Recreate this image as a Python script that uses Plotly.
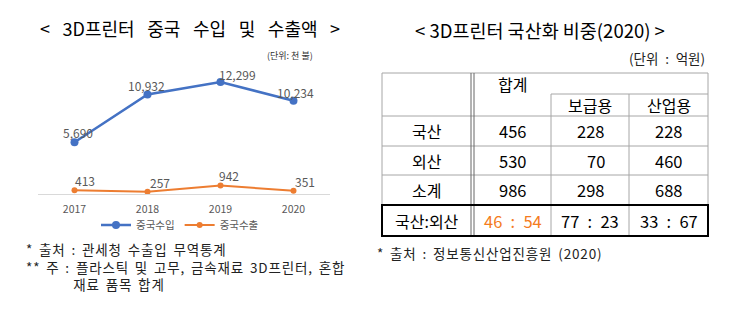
import plotly.graph_objects as go

# ---------------- data ----------------
years = ["2017", "2018", "2019", "2020"]
import_vals = [5690, 10932, 12299, 10234]
export_vals = [413, 257, 942, 351]
series_names = ["중국수입", "중국수출"]

left_title = "< 3D프린터 중국 수입 및 수출액 >"
left_unit = "(단위: 천 불)"
left_notes = ["* 출처 : 관세청 수출입 무역통계",
              "** 주 : 플라스틱 및 고무, 금속재료 3D프린터, 혼합",
              "재료 품목 합계"]

right_title = "< 3D프린터 국산화 비중(2020) >"
right_unit = "(단위 : 억원)"
right_note = "* 출처 : 정보통신산업진흥원 (2020)"
table_head_top = "합계"
table_head_sub = ["보급용", "산업용"]
row_labels = ["국산", "외산", "소계", "국산:외산"]
table_vals = [["456", "228", "228"],
              ["530", "70", "460"],
              ["986", "298", "688"],
              ["46 : 54", "77 : 23", "33 : 67"]]

# ---------------- styling ----------------
W, H = 740, 334
FONT = "Noto Sans CJK KR"
BLUE = "#4472C4"
ORANGE = "#ED7D31"
RATIO_ORANGE = "#F47B20"
GRAY_TXT = "#595959"
EN = "\u2002"
THIN = "\u2009"
HAIR = "\u200a"


def px(x):
    return x / W


def py(y):
    return 1 - y / H


def wide(s, sep=EN):
    return s.replace(" ", sep)


def spaced(s):
    # en-width spaces plus a hair of tracking between glyphs
    out = []
    for k, ch in enumerate(s):
        out.append(EN if ch == " " else ch)
        if k + 1 < len(s) and ch != " " and s[k + 1] != " ":
            out.append(HAIR)
    return "".join(out)


fig = go.Figure()
fig.add_trace(go.Scatter(x=years, y=import_vals, mode="lines+markers", name=series_names[0],
                         line=dict(color=BLUE, width=2.5), marker=dict(size=8, color=BLUE)))
fig.add_trace(go.Scatter(x=years, y=export_vals, mode="lines+markers", name=series_names[1],
                         line=dict(color=ORANGE, width=2), marker=dict(size=6, color=ORANGE)))

ann = []
# data labels (category axis: position by index)
imp_off = [(3, 10), (-1, 9), (17, 8), (2, 8)]
exp_off = [(10, 10), (12, 9), (8, 10), (11, 9)]
for i in range(len(years)):
    ann.append(dict(x=i, y=import_vals[i], xref="x", yref="y", text=f"{import_vals[i]:,}",
                    showarrow=False, xshift=imp_off[i][0], yshift=imp_off[i][1],
                    xanchor="center", yanchor="middle",
                    font=dict(size=12, color=GRAY_TXT, family=FONT)))
    ann.append(dict(x=i, y=export_vals[i], xref="x", yref="y", text=f"{export_vals[i]:,}",
                    showarrow=False, xshift=exp_off[i][0], yshift=exp_off[i][1],
                    xanchor="center", yanchor="middle",
                    font=dict(size=12, color=GRAY_TXT, family=FONT)))


def ptext(x, y, text, size, color="#000", anchor="center", yanchor="middle"):
    ann.append(dict(x=px(x), y=py(y), xref="paper", yref="paper", text=text, showarrow=False,
                    xanchor=anchor, yanchor=yanchor, align="left",
                    font=dict(size=size, color=color, family=FONT)))


# left texts
ptext(190, 28, wide(left_title, EN + THIN), 18)
ptext(315, 55, left_unit, 9, "#333", "right")
notes_text = "<br>".join([spaced(left_notes[0]), spaced(left_notes[1]),
                          EN * 7 + spaced(left_notes[2])])
ptext(24, 237, notes_text, 13.5, "#222", "left", "top")

# right texts
ptext(540, 30, right_title, 18.5)
ptext(707, 58, wide(right_unit), 13.5, "#222", "right")
ptext(375, 253, spaced(right_note), 13.5, "#222", "left")

# table geometry
XL, XD1, XD2, XC2, XC3, XR = 382, 471, 474, 551, 629, 708
YT, YSUB = 73, 94
row_y = [116, 146, 175, 205, 236]
col_cx = [(XD2 + XC2) / 2, (XC2 + XC3) / 2, (XC3 + XR) / 2]
lab_cx = (XL + XD1) / 2
LINE = "#A6A6A6"
shapes = []


def hline(x0, x1, y, color=LINE, w=1):
    shapes.append(dict(type="line", xref="paper", yref="paper", x0=px(x0), x1=px(x1),
                       y0=py(y), y1=py(y), line=dict(color=color, width=w)))


def vline(x, y0, y1, color=LINE, w=1):
    shapes.append(dict(type="line", xref="paper", yref="paper", x0=px(x), x1=px(x),
                       y0=py(y0), y1=py(y1), line=dict(color=color, width=w)))


hline(XL, XR, YT)
hline(XC2, XR, YSUB)
for yy in row_y[:-1]:
    hline(XL, XR, yy)
vline(XL, YT, row_y[-1])
vline(XD1, YT, row_y[-1], color="#666")
vline(XD2, YT, row_y[-1], color="#666")
vline(XC2, YSUB, row_y[-1])
vline(XC3, YSUB, row_y[-1])
vline(XR, YT, row_y[-1])
shapes.append(dict(type="rect", xref="paper", yref="paper", x0=px(XL), x1=px(XR),
                   y0=py(row_y[3]), y1=py(row_y[4]), line=dict(color="#000", width=2)))

ptext(col_cx[0], 84, table_head_top, 16)
for j, t in enumerate(table_head_sub):
    ptext(col_cx[j + 1], 105, t, 16)
for i, lab in enumerate(row_labels):
    cy = (row_y[i] + row_y[i + 1]) / 2
    ptext(lab_cx, cy, lab, 16)
    for j in range(3):
        col = RATIO_ORANGE if (i == 3 and j == 0) else "#000"
        cx = col_cx[j] + (6 if table_vals[i][j] == "70" else 0)
        ptext(cx, cy, wide(table_vals[i][j]), 16.5, col)

fig.update_layout(
    width=W, height=H, margin=dict(l=0, r=0, t=0, b=0),
    paper_bgcolor="white", plot_bgcolor="white",
    font=dict(family=FONT),
    xaxis=dict(domain=[px(38), px(330)], type="category", range=[-0.5, 3.5],
               showline=True, linecolor="#D9D9D9", linewidth=1, showgrid=False, ticks="",
               ticklabelstandoff=5,
               tickfont=dict(size=10.5, color=GRAY_TXT, family=FONT), fixedrange=True),
    yaxis=dict(domain=[py(194), py(60)], range=[0, 14715], visible=False, fixedrange=True),
    showlegend=True,
    legend=dict(orientation="h", x=px(180), xanchor="center", y=py(225), yanchor="middle",
                font=dict(size=10.5, color=GRAY_TXT, family=FONT), bgcolor="rgba(0,0,0,0)",
                itemwidth=30, tracegroupgap=0),
    annotations=ann, shapes=shapes,
)

fig.write_html("out.html")
